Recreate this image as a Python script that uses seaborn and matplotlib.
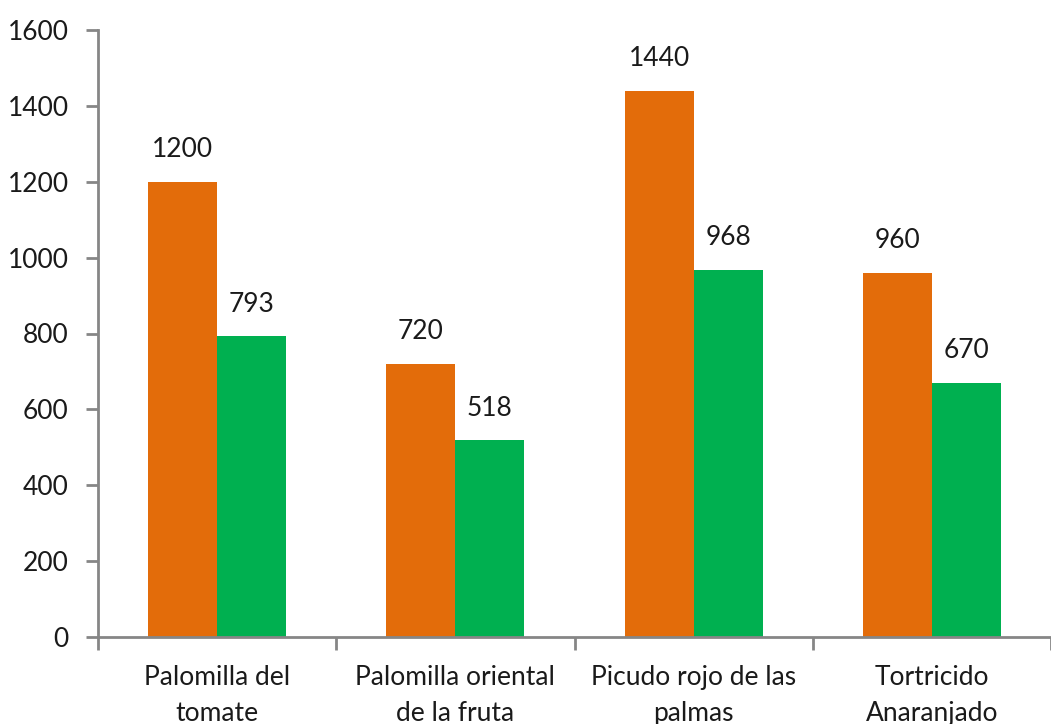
import pandas as pd
import numpy as np
import matplotlib
matplotlib.use("Agg")
import matplotlib.pyplot as plt
import seaborn as sns

categories = ["Palomilla del\ntomate", "Palomilla oriental\nde la fruta",
              "Picudo rojo de las\npalmas", "Tortricido\nAnaranjado"]
serie_a = [1200, 720, 1440, 960]
serie_b = [793, 518, 968, 670]
series_names = ["A", "B"]
colors = ["#E36C0A", "#00B050"]

sns.set_style("white")
plt.rcParams["font.family"] = ["Lato", "DejaVu Sans"]

df = pd.DataFrame({
    "cat": categories * 2,
    "val": serie_a + serie_b,
    "serie": [series_names[0]] * 4 + [series_names[1]] * 4,
})

fig = plt.figure(figsize=(10.51, 7.24), dpi=100)
ax = fig.add_axes([98 / 1051, 1 - 637 / 724, 1 - 98 / 1051, (637 - 30) / 724])
sns.barplot(data=df, x="cat", y="val", hue="serie", palette=colors,
            width=0.58, saturation=1, linewidth=0, ax=ax, legend=False)

# value labels above each bar
for cont in ax.containers:
    ax.bar_label(cont, padding=14, fontsize=19, color="#1a1a1a")

ax.set_ylim(0, 1600)
ax.set_xlim(-0.5, 3.5)
ax.set_yticks(range(0, 1601, 200))
ax.set_xlabel("")
ax.set_ylabel("")

# tick marks sit between the categories
ax.set_xticks(np.arange(-0.5, 4, 1), minor=True)
for lab in ax.get_xticklabels():
    lab.set_linespacing(1.55)
ax.tick_params(axis="x", which="major", bottom=False, length=0, pad=20, labelsize=19,
               labelcolor="#1a1a1a")
ax.tick_params(axis="x", which="minor", bottom=True, length=9, width=2, color="#868686",
               direction="out")
ax.tick_params(axis="y", left=True, length=9, width=2, color="#868686", direction="out", pad=12,
               labelsize=19, labelcolor="#1a1a1a")

for s in ["top", "right"]:
    ax.spines[s].set_visible(False)
for s in ["left", "bottom"]:
    ax.spines[s].set_color("#868686")
    ax.spines[s].set_linewidth(2)

fig.savefig("out.png", dpi=100)
